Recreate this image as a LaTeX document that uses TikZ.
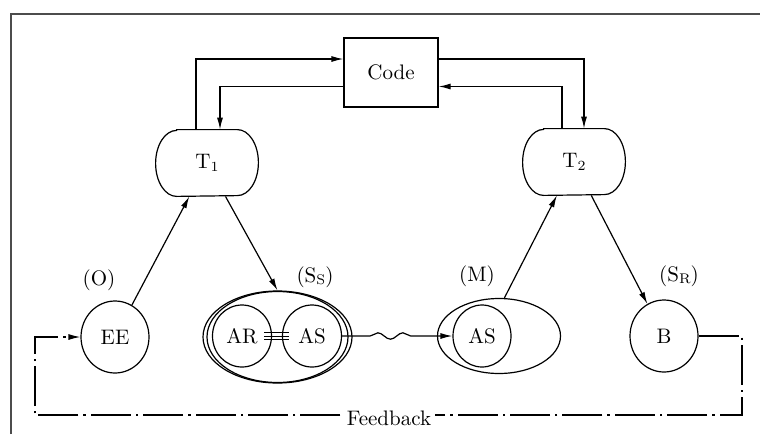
\documentclass[tikz,border=0pt]{standalone}
\usetikzlibrary{arrows.meta,shapes.geometric,calc,decorations.pathmorphing}
\newcommand{\lowsub}[1]{\raisebox{-0.25ex}{\scriptsize #1}}
\begin{document}
\begin{tikzpicture}[x=0.5pt,y=-0.5pt,
  every node/.style={font=\fontsize{10.5}{12}\selectfont},
  conn/.style={line width=0.6pt,-{Latex[length=6pt,width=3pt]}},
  oval/.style={draw,line width=0.6pt,ellipse,inner sep=0pt},
  tbox/.style={rectangle,minimum width=51pt,minimum height=33pt,inner sep=0pt},
  tline/.style={line width=0.6pt},
  fb/.style={line width=0.6pt,dash pattern=on 20pt off 2.5pt on 1.2pt off 2.5pt}]
\useasboundingbox (0,0) rectangle (760,434);
\draw[line width=0.8pt,gray!60!black] (11,434) -- (11,14) -- (760,14);

\node[draw,line width=0.6pt,minimum width=47pt,minimum height=34.5pt,inner sep=0pt] (code) at (391,72.5) {Code};
\node[tbox] (T1) at (207,163) {T\lowsub{1}};
\node[tbox] (T2) at (574,162) {T\lowsub{2}};
\foreach \t in {T1,T2}
  \draw[tline] ($(\t.north west)+(21,0)$) -- ($(\t.north east)+(-21,0)$)
    arc[start angle=-90,end angle=90,x radius=21,y radius=33]
    -- ($(\t.south west)+(21,0)$)
    arc[start angle=90,end angle=270,x radius=21,y radius=33] -- cycle;

\node[oval,minimum width=34pt,minimum height=36pt] (EE) at (115,337) {EE};
\node[oval,minimum width=74.5pt,minimum height=46pt] (Ss) at (277.5,337) {};
\node[oval,minimum width=70.5pt,minimum height=45.5pt] (Ssin) at (277.5,337) {};
\node[oval,minimum width=29.5pt,minimum height=31pt] (AR) at (242,336) {AR};
\node[oval,minimum width=29.5pt,minimum height=31pt] (AS1) at (312,336) {AS};
\node[oval,minimum width=61.5pt,minimum height=37.5pt] (M) at (499,336) {};
\node[oval,minimum width=29pt,minimum height=31pt] (AS2) at (482,336) {AS};
\node[oval,minimum width=34pt,minimum height=36pt] (B) at (664,336) {B};

\node (lO) at (99,280) {(O)};
\node (lSs) at (315,277) {(S\lowsub{S})};
\node (lM) at (477,276) {(M)};
\node (lSr) at (679,276) {(S\lowsub{R})};

\foreach \dy in {-3.4,0,3.4}
  \draw[line width=0.5pt] ($(AR.east)+(-8,\dy)$) -- ($(AS1.west)+(7.5,\dy)$);

\draw[conn,decorate,decoration={snake,segment length=12.5pt,amplitude=1.6pt,pre length=14pt,post length=16pt}] (AS1.east) -- (AS2.west);

\draw[conn] (EE) -- (T1);
\draw[conn] (T1) -- (Ss.north);
\draw[conn] (M.82) -- (T2);
\draw[conn] (T2) -- (B);

\draw[conn] ($(T1.north)+(-11,0)$) |- ($(code.west)+(0,-13.5)$);
\draw[conn] ($(code.west)+(0,14)$) -| ($(T1.north)+(13,0)$);
\draw[conn] ($(code.east)+(0,-13.5)$) -| ($(T2.north)+(10,0)$);
\draw[conn] ($(T2.north)+(-12,0)$) |- ($(code.east)+(0,14)$);

\coordinate (fbR) at (742,415);
\coordinate (fbL) at (35,415);
\draw[fb,-{Latex[length=6pt,width=3pt]}] (B.east) -| (fbR) -- (fbL) |- (EE.west);
\node[fill=white,inner xsep=2pt,inner ysep=1pt] (fbt) at (389,418) {Feedback};
\end{tikzpicture}
\end{document}
